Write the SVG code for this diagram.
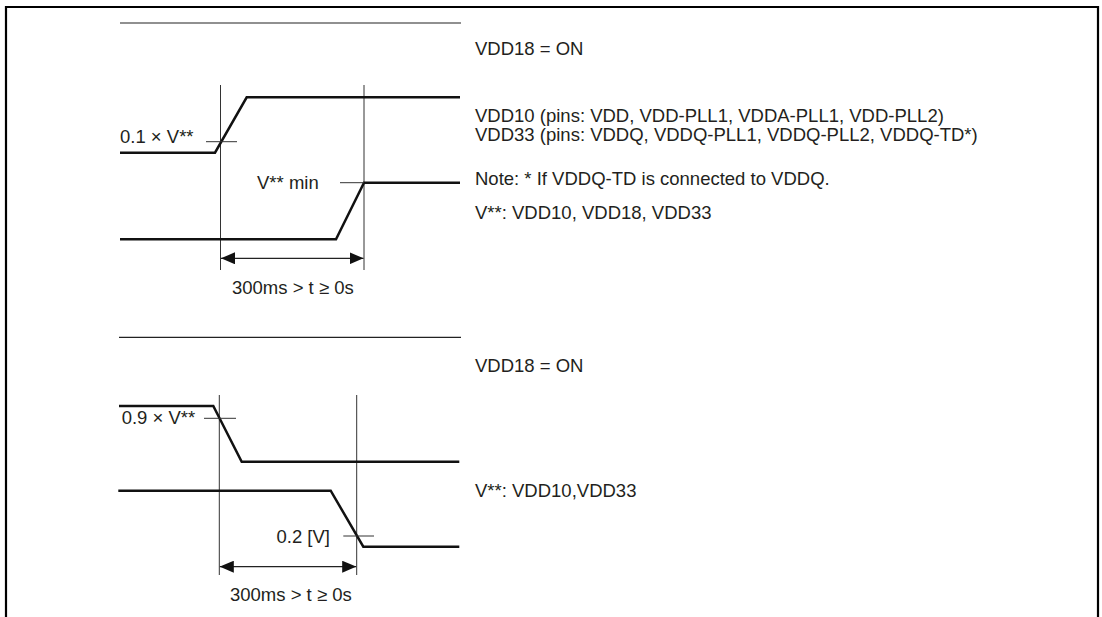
<svg xmlns="http://www.w3.org/2000/svg" width="1102" height="617" viewBox="0 0 1102 617">
<style>
text{font-family:"Liberation Sans",Arial,sans-serif;font-size:18.5px;fill:#231f20}
.wave{fill:none;stroke:#111;stroke-width:2.5;stroke-linejoin:miter}
.thin{fill:none;stroke:#333;stroke-width:1}
.sep{fill:none;stroke:#222;stroke-width:1.2}
.dim{fill:none;stroke:#222;stroke-width:1.3}
.frame{fill:none;stroke:#000;stroke-width:2.2}
</style>
<defs>
<marker id="ah" viewBox="0 0 14 12" refX="14" refY="6" markerWidth="14" markerHeight="12" markerUnits="userSpaceOnUse" orient="auto-start-reverse">
<path d="M0,0 L14,6 L0,12 Z" fill="#111"/>
</marker>
</defs>
<rect width="1102" height="617" fill="#fff"/>
<path class="frame" d="M6,620 V7 H1098 V620"/>

<g id="power-on">
<line class="sep" x1="120" y1="23" x2="461" y2="23"/>
<line class="thin" x1="220.5" y1="85" x2="220.5" y2="270"/>
<line class="thin" x1="364" y1="85" x2="364" y2="270"/>
<polyline class="wave" points="120,152.7 215,152.7 246.7,97.3 460,97.3"/>
<polyline class="wave" points="120,239.3 336,239.3 364,182.7 460,182.7"/>
<line class="thin" x1="206" y1="141.7" x2="237" y2="141.7"/>
<line class="thin" x1="340" y1="182.7" x2="364" y2="182.7"/>
<text x="120" y="143">0.1 × V**</text>
<text x="257" y="189">V** min</text>
<line class="dim" x1="221" y1="258.3" x2="363.5" y2="258.3" marker-start="url(#ah)" marker-end="url(#ah)"/>
<text x="232" y="294">300ms &gt; t ≥ 0s</text>
<text x="475" y="55">VDD18 = ON</text>
<text x="475" y="122">VDD10 (pins: VDD, VDD-PLL1, VDDA-PLL1, VDD-PLL2)</text>
<text x="475" y="141">VDD33 (pins: VDDQ, VDDQ-PLL1, VDDQ-PLL2, VDDQ-TD*)</text>
<text x="475" y="185">Note: * If VDDQ-TD is connected to VDDQ.</text>
<text x="475" y="219">V**: VDD10, VDD18, VDD33</text>
</g>

<g id="power-off">
<line class="sep" x1="119" y1="337.3" x2="461" y2="337.3"/>
<line class="thin" x1="219.3" y1="395" x2="219.3" y2="575"/>
<line class="thin" x1="356.7" y1="395" x2="356.7" y2="575"/>
<polyline class="wave" points="119,406 213.3,406 241.7,461.7 459.3,461.7"/>
<polyline class="wave" points="118.3,490.7 330.7,490.7 363.3,546.7 459.3,546.7"/>
<line class="thin" x1="204" y1="418.3" x2="236" y2="418.3"/>
<line class="thin" x1="343.3" y1="536" x2="374" y2="536"/>
<text x="121.7" y="424">0.9 × V**</text>
<text x="330" y="543" text-anchor="end">0.2 [V]</text>
<line class="dim" x1="219.8" y1="566.7" x2="356.2" y2="566.7" marker-start="url(#ah)" marker-end="url(#ah)"/>
<text x="230" y="601">300ms &gt; t ≥ 0s</text>
<text x="475" y="372">VDD18 = ON</text>
<text x="475" y="497">V**: VDD10,VDD33</text>
</g>
</svg>
